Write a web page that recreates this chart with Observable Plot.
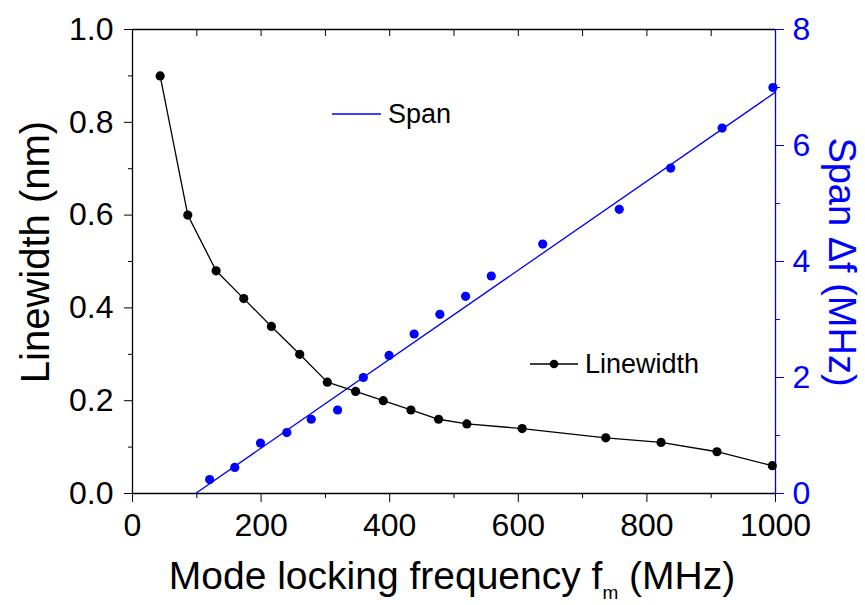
<!DOCTYPE html>
<html><head><meta charset="utf-8">
<script src="https://cdn.jsdelivr.net/npm/d3@7"></script>
<script src="https://cdn.jsdelivr.net/npm/@observablehq/plot@0.6"></script>
<style>
body{margin:0;background:#fff}
svg{font-family:"Liberation Sans",Arial,sans-serif}
</style>
</head><body><div id="chart"></div>
<script>
// Linewidth (nm) vs mode-locking frequency (MHz)
const lwFreq  = [43, 86, 130, 173, 216, 260, 303, 347, 390, 433, 476, 520, 606, 736, 822, 909, 995];
const lwValue = [0.90, 0.60, 0.48, 0.42, 0.36, 0.30, 0.24, 0.22, 0.20, 0.18, 0.16, 0.15, 0.14, 0.12, 0.11, 0.09, 0.06];
// Span Δf (MHz) vs mode-locking frequency (MHz)
const spanFreq  = [120, 159, 199, 240, 278, 319, 359, 399, 438, 478, 518, 558, 638, 757, 837, 917, 996];
const spanValue = [0.24, 0.45, 0.87, 1.05, 1.28, 1.44, 2.00, 2.38, 2.75, 3.09, 3.40, 3.75, 4.30, 4.90, 5.61, 6.30, 7.00];
// Linear fit of span (end points)
const fitFreq = [98, 1000];
const fitSpan = [0, 6.92];
// Ticks
const xTicks = [0, 200, 400, 600, 800, 1000];
const xMinor = [100, 300, 500, 700, 900];
const yTicks = [0, 0.2, 0.4, 0.6, 0.8, 1.0];
const yMinor = [0.1, 0.3, 0.5, 0.7, 0.9];
const spanTicks = [0, 2, 4, 6, 8];
const spanMinor = [1, 3, 5, 7];
const SPAN_MAX = 8;

const BLUE = "#0000ff";
const lw = lwFreq.map((f, i) => ({f, v: lwValue[i]}));
const sp = spanFreq.map((f, i) => ({f, v: spanValue[i] / SPAN_MAX}));
const fit = fitFreq.map((f, i) => ({f, v: fitSpan[i] / SPAN_MAX}));

const chart = Plot.plot({
  width: 865, height: 605,
  marginLeft: 132, marginRight: 90, marginTop: 29, marginBottom: 112,
  style: {fontFamily: '"Liberation Sans",Arial,sans-serif', background: "#fff", color: "#000"},
  x: {domain: [0, 1000]},
  y: {domain: [0, 1]},
  marks: [
    // bottom axis
    Plot.axisX(xTicks, {anchor: "bottom", tickSize: 9, tickPadding: 11, fontSize: 32, tickFormat: d => String(d), label: null}),
    Plot.axisX(xMinor, {anchor: "bottom", tickSize: 5, fill: "none", label: null}),
    // top mirror ticks (inward)
    Plot.axisX(xTicks.concat(xMinor), {anchor: "top", tickSize: -6, fill: "none", label: null}),
    // left axis
    Plot.axisY(yTicks, {anchor: "left", tickSize: 8, tickPadding: 11, fontSize: 32, tickFormat: d3.format(".1f"), label: null}),
    Plot.axisY(yMinor, {anchor: "left", tickSize: 4, fill: "none", label: null}),
    // right axis (span)
    Plot.axisY(spanTicks.map(v => v / SPAN_MAX), {anchor: "right", tickSize: 8, tickPadding: 9, fontSize: 32, color: BLUE, tickFormat: d => String(Math.round(d * SPAN_MAX)), label: null}),
    Plot.axisY(spanMinor.map(v => v / SPAN_MAX), {anchor: "right", tickSize: 4, color: BLUE, fill: "none", label: null}),
    // frame
    Plot.ruleY([0, 1], {stroke: "#000", strokeWidth: 1.3}),
    Plot.ruleX([0], {stroke: "#000", strokeWidth: 1.3}),
    Plot.ruleX([1000], {stroke: BLUE, strokeWidth: 1.3}),
    // span fit + points
    Plot.line(fit, {x: "f", y: "v", stroke: BLUE, strokeWidth: 1.3}),
    Plot.dot(sp, {x: "f", y: "v", r: 4.6, fill: BLUE, stroke: "none"}),
    // linewidth line + points
    Plot.line(lw, {x: "f", y: "v", stroke: "#000", strokeWidth: 1.3}),
    Plot.dot(lw, {x: "f", y: "v", r: 4.6, fill: "#000", stroke: "none"})
  ]
});
document.getElementById("chart").append(chart);

const svg = d3.select(chart);
const font = '"Liberation Sans",Arial,sans-serif';
// X title
const xt = svg.append("text").attr("x", 452).attr("y", 589).attr("text-anchor", "middle")
  .attr("font-size", 39).attr("font-family", font).attr("fill", "#000");
xt.append("tspan").text("Mode locking frequency f");
xt.append("tspan").attr("font-size", 19).attr("dy", 10).text("m");
xt.append("tspan").attr("dy", -10).text(" (MHz)");
// Left title
svg.append("text").attr("transform", "translate(49,252) rotate(-90)").attr("text-anchor", "middle")
  .attr("font-size", 40).attr("font-family", font).attr("fill", "#000").text("Linewidth (nm)");
// Right title
svg.append("text").attr("transform", "translate(829,262) rotate(90)").attr("text-anchor", "middle")
  .attr("font-size", 38).attr("font-family", font).attr("fill", BLUE).text("Span \u0394f (MHz)");
// Legends
svg.append("line").attr("x1", 332).attr("x2", 381).attr("y1", 114).attr("y2", 114).attr("stroke", BLUE).attr("stroke-width", 1.3);
svg.append("text").attr("x", 388).attr("y", 114).attr("dy", "0.35em").attr("text-anchor", "start").attr("font-size", 27).attr("font-family", font).attr("fill", "#000").text("Span");
svg.append("line").attr("x1", 530).attr("x2", 578).attr("y1", 364).attr("y2", 364).attr("stroke", "#000").attr("stroke-width", 1.3);
svg.append("circle").attr("cx", 554).attr("cy", 364).attr("r", 4.3).attr("fill", "#000");
svg.append("text").attr("x", 585).attr("y", 364).attr("dy", "0.35em").attr("text-anchor", "start").attr("font-size", 27).attr("font-family", font).attr("fill", "#000").text("Linewidth");
</script>
</body></html>
